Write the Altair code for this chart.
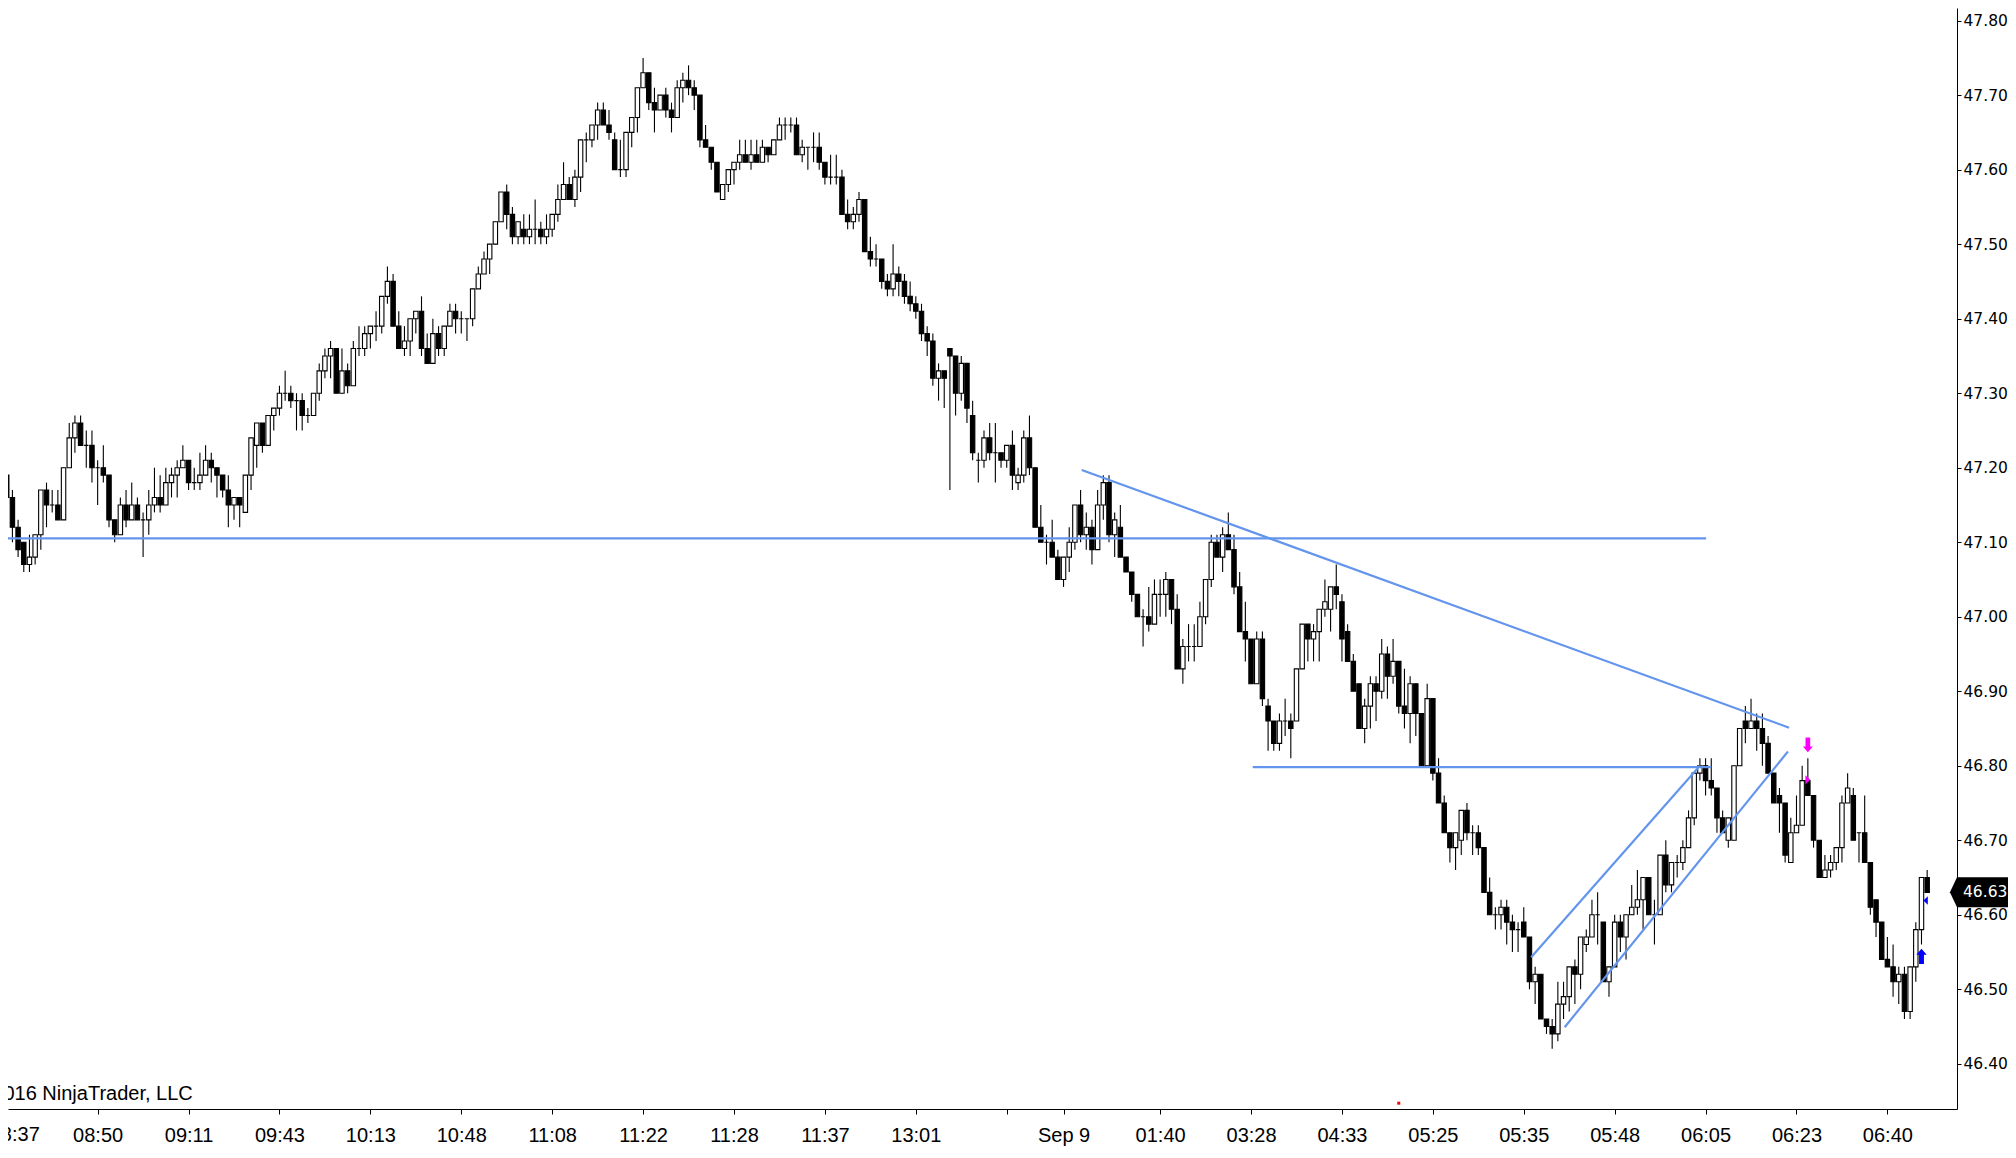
import altair as alt
import pandas as pd

# ---------------- data ----------------
opens = [
47.19,47.16,47.12,47.10,47.07,47.08,47.11,47.17,47.15,47.15,
47.13,47.20,47.24,47.26,47.23,47.23,47.20,47.20,47.19,47.13,
47.11,47.15,47.13,47.15,47.13,47.13,47.15,47.16,47.15,47.18,
47.19,47.20,47.21,47.18,47.18,47.19,47.21,47.20,47.19,47.17,
47.15,47.16,47.14,47.19,47.23,47.26,47.23,47.27,47.28,47.30,
47.30,47.29,47.29,47.27,47.27,47.30,47.33,47.35,47.36,47.30,
47.33,47.31,47.36,47.36,47.38,47.39,47.39,47.43,47.45,47.39,
47.36,47.37,47.40,47.41,47.36,47.34,47.38,47.36,47.39,47.41,
47.40,47.40,47.40,47.44,47.46,47.48,47.50,47.53,47.57,47.54,
47.51,47.52,47.51,47.52,47.52,47.51,47.52,47.54,47.56,47.58,
47.56,47.59,47.64,47.64,47.66,47.68,47.66,47.64,47.60,47.60,
47.65,47.67,47.71,47.73,47.69,47.68,47.70,47.68,47.67,47.71,
47.72,47.71,47.70,47.64,47.63,47.61,47.56,47.58,47.60,47.61,
47.62,47.61,47.62,47.61,47.63,47.62,47.64,47.66,47.66,47.66,
47.62,47.63,47.63,47.63,47.61,47.59,47.59,47.59,47.54,47.53,
47.54,47.56,47.49,47.48,47.48,47.45,47.44,47.46,47.45,47.43,
47.42,47.41,47.38,47.37,47.32,47.33,47.36,47.35,47.30,47.34,
47.27,47.21,47.21,47.24,47.22,47.22,47.21,47.23,47.18,47.19,
47.24,47.20,47.12,47.10,47.10,47.08,47.05,47.08,47.10,47.15,
47.11,47.12,47.09,47.15,47.18,47.11,47.12,47.08,47.06,47.03,
47.00,47.00,46.99,47.03,47.03,47.05,47.01,46.93,46.96,46.96,
46.96,47.00,47.05,47.10,47.08,47.11,47.09,47.04,46.98,46.97,
46.91,46.97,46.88,46.86,46.83,46.86,46.86,46.86,46.93,46.99,
46.97,46.98,47.01,47.01,47.04,47.02,46.98,46.94,46.91,46.85,
46.88,46.91,46.90,46.95,46.92,46.94,46.88,46.87,46.91,46.87,
46.80,46.89,46.79,46.75,46.71,46.69,46.70,46.74,46.71,46.71,
46.69,46.63,46.60,46.60,46.61,46.59,46.58,46.59,46.57,46.51,
46.52,46.46,46.45,46.44,46.48,46.49,46.53,46.52,46.56,46.57,
46.60,46.59,46.51,46.53,46.59,46.57,46.60,46.61,46.62,46.65,
46.60,46.60,46.68,46.64,46.67,46.67,46.69,46.73,46.79,46.80,
46.78,46.77,46.73,46.70,46.70,46.80,46.86,46.85,46.86,46.85,
46.83,46.79,46.76,46.75,46.67,46.71,46.72,46.78,46.76,46.70,
46.65,46.66,46.67,46.69,46.75,46.76,46.71,46.71,46.67,46.62,
46.59,46.54,46.53,46.51,46.52,46.47,46.53,46.58,46.65]

highs = [
47.20,47.17,47.13,47.10,47.11,47.11,47.17,47.18,47.17,47.17,
47.20,47.26,47.27,47.27,47.25,47.25,47.21,47.23,47.19,47.13,
47.16,47.17,47.18,47.16,47.14,47.17,47.20,47.19,47.20,47.20,
47.21,47.23,47.21,47.20,47.22,47.23,47.22,47.20,47.19,47.19,
47.16,47.16,47.19,47.24,47.26,47.26,47.27,47.28,47.31,47.33,
47.31,47.30,47.30,47.28,47.30,47.34,47.36,47.37,47.36,47.36,
47.34,47.37,47.39,47.39,47.39,47.41,47.43,47.47,47.46,47.41,
47.39,47.40,47.41,47.43,47.38,47.40,47.39,47.39,47.42,47.42,
47.41,47.40,47.44,47.47,47.49,47.50,47.53,47.57,47.58,47.55,
47.53,47.54,47.54,47.56,47.53,47.54,47.54,47.58,47.61,47.59,
47.60,47.64,47.65,47.66,47.69,47.69,47.68,47.65,47.64,47.65,
47.67,47.71,47.75,47.73,47.71,47.70,47.71,47.69,47.72,47.73,
47.74,47.72,47.70,47.66,47.63,47.61,47.58,47.60,47.61,47.64,
47.64,47.64,47.64,47.64,47.63,47.64,47.67,47.67,47.67,47.67,
47.64,47.63,47.65,47.65,47.61,47.62,47.62,47.60,47.56,47.55,
47.57,47.56,47.51,47.50,47.48,47.46,47.50,47.47,47.46,47.45,
47.43,47.42,47.39,47.38,47.34,47.33,47.36,47.35,47.35,47.34,
47.29,47.22,47.25,47.26,47.26,47.22,47.23,47.25,47.20,47.25,
47.27,47.20,47.15,47.11,47.13,47.09,47.08,47.12,47.15,47.17,
47.14,47.13,47.17,47.19,47.19,47.14,47.15,47.08,47.06,47.03,
47.01,47.04,47.05,47.05,47.06,47.05,47.03,46.97,46.99,46.99,
47.02,47.05,47.11,47.11,47.12,47.14,47.11,47.06,47.02,46.97,
46.98,46.98,46.89,46.86,46.87,46.89,46.87,46.93,46.99,46.99,
46.99,47.01,47.05,47.04,47.07,47.03,46.99,46.95,46.91,46.89,
46.92,46.92,46.97,46.96,46.97,46.94,46.93,46.92,46.91,46.87,
46.91,46.89,46.81,46.76,46.71,46.71,46.74,46.75,46.72,46.72,
46.69,46.65,46.61,46.62,46.62,46.60,46.59,46.61,46.57,46.53,
46.52,46.46,46.46,46.51,46.51,46.53,46.54,46.57,46.58,46.62,
46.63,46.59,46.53,46.60,46.60,46.60,46.64,46.66,46.65,46.65,
46.62,46.68,46.70,46.67,46.68,46.70,46.74,46.79,46.81,46.81,
46.81,46.77,46.74,46.73,46.80,46.85,46.88,46.89,46.87,46.87,
46.84,46.79,46.77,46.75,46.73,46.76,46.80,46.81,46.76,46.70,
46.68,46.68,46.69,46.76,46.79,46.77,46.71,46.76,46.67,46.62,
46.59,46.57,46.56,46.53,46.53,46.53,46.59,46.65,46.66]

lows = [
47.16,47.10,47.08,47.06,47.06,47.07,47.09,47.12,47.14,47.13,
47.13,47.20,47.22,47.23,47.20,47.18,47.15,47.18,47.12,47.10,
47.11,47.12,47.13,47.13,47.08,47.11,47.14,47.14,47.15,47.16,
47.16,47.20,47.17,47.17,47.17,47.19,47.18,47.16,47.16,47.12,
47.13,47.12,47.14,47.17,47.20,47.22,47.23,47.25,47.27,47.29,
47.28,47.25,47.25,47.26,47.27,47.29,47.32,47.32,47.30,47.30,
47.30,47.31,47.35,47.35,47.36,47.37,47.38,47.42,47.39,47.36,
47.35,47.35,47.38,47.35,47.34,47.34,47.35,47.35,47.39,47.38,
47.38,47.37,47.39,47.44,47.46,47.46,47.50,47.53,47.52,47.50,
47.50,47.50,47.50,47.50,47.50,47.50,47.51,47.53,47.56,47.56,
47.55,47.57,47.61,47.63,47.64,47.66,47.64,47.60,47.59,47.59,
47.63,47.65,47.71,47.68,47.65,47.68,47.67,47.65,47.67,47.69,
47.70,47.68,47.63,47.63,47.60,47.57,47.56,47.57,47.58,47.60,
47.61,47.60,47.61,47.61,47.61,47.62,47.64,47.64,47.65,47.62,
47.61,47.60,47.61,47.60,47.58,47.58,47.58,47.54,47.52,47.52,
47.53,47.49,47.47,47.47,47.44,47.43,47.43,47.43,47.42,47.41,
47.40,47.37,47.35,47.31,47.29,47.28,47.17,47.27,47.29,47.26,
47.21,47.18,47.20,47.21,47.18,47.20,47.20,47.17,47.17,47.18,
47.19,47.12,47.10,47.07,47.08,47.05,47.04,47.06,47.09,47.10,
47.09,47.07,47.09,47.13,47.10,47.08,47.08,47.06,47.02,47.00,
46.96,46.98,46.99,47.00,47.00,46.99,46.93,46.91,46.94,46.94,
46.96,46.99,47.04,47.08,47.06,47.09,47.03,46.98,46.94,46.91,
46.91,46.88,46.82,46.82,46.82,46.84,46.81,46.86,46.93,46.94,
46.94,46.94,47.00,46.98,47.01,46.94,46.94,46.90,46.85,46.83,
46.85,46.86,46.89,46.89,46.91,46.87,46.85,46.83,46.84,46.80,
46.80,46.78,46.75,46.71,46.67,46.66,46.68,46.70,46.68,46.68,
46.63,46.60,46.58,46.58,46.56,46.55,46.55,46.57,46.50,46.48,
46.46,46.44,46.42,46.43,46.46,46.47,46.48,46.50,46.55,46.57,
46.56,46.51,46.49,46.53,46.55,46.54,46.60,46.60,46.58,46.60,
46.56,46.60,46.63,46.63,46.65,46.66,46.69,46.72,46.78,46.76,
46.76,46.71,46.71,46.69,46.70,46.80,46.83,46.85,46.82,46.80,
46.79,46.75,46.71,46.67,46.67,46.71,46.72,46.76,46.69,46.65,
46.65,46.65,46.66,46.67,46.75,46.70,46.67,46.67,46.60,46.57,
46.54,46.53,46.49,46.48,46.46,46.46,46.51,46.56,46.63]

closes = [
47.16,47.12,47.09,47.07,47.08,47.11,47.17,47.15,47.15,47.13,
47.20,47.24,47.26,47.23,47.23,47.20,47.20,47.19,47.13,47.11,
47.15,47.13,47.15,47.13,47.13,47.15,47.16,47.15,47.18,47.19,
47.20,47.21,47.18,47.18,47.19,47.21,47.20,47.19,47.17,47.15,
47.16,47.15,47.19,47.24,47.26,47.23,47.27,47.28,47.30,47.30,
47.29,47.29,47.27,47.27,47.30,47.33,47.35,47.36,47.30,47.33,
47.31,47.36,47.36,47.38,47.39,47.39,47.43,47.45,47.39,47.36,
47.37,47.40,47.41,47.36,47.34,47.38,47.36,47.39,47.41,47.40,
47.40,47.40,47.44,47.46,47.48,47.50,47.53,47.57,47.54,47.51,
47.53,47.51,47.52,47.52,47.51,47.52,47.54,47.56,47.58,47.56,
47.59,47.64,47.64,47.66,47.68,47.66,47.65,47.60,47.60,47.65,
47.67,47.71,47.73,47.69,47.68,47.70,47.68,47.67,47.71,47.72,
47.71,47.70,47.64,47.63,47.61,47.57,47.58,47.60,47.61,47.62,
47.61,47.62,47.61,47.63,47.62,47.64,47.66,47.66,47.66,47.62,
47.63,47.63,47.63,47.61,47.59,47.59,47.59,47.54,47.53,47.54,
47.56,47.49,47.48,47.48,47.45,47.44,47.46,47.45,47.43,47.42,
47.41,47.38,47.37,47.32,47.33,47.32,47.35,47.30,47.34,47.28,
47.22,47.21,47.24,47.22,47.22,47.21,47.23,47.19,47.19,47.24,
47.20,47.12,47.10,47.10,47.08,47.05,47.08,47.10,47.15,47.11,
47.12,47.09,47.15,47.18,47.11,47.13,47.08,47.06,47.03,47.00,
47.00,46.99,47.03,47.03,47.05,47.01,46.93,46.96,46.96,46.96,
47.00,47.05,47.10,47.08,47.11,47.09,47.04,46.98,46.97,46.91,
46.97,46.89,46.86,46.83,46.86,46.86,46.85,46.93,46.99,46.97,
46.98,47.01,47.02,47.04,47.03,46.97,46.94,46.90,46.85,46.88,
46.91,46.90,46.95,46.92,46.94,46.88,46.87,46.91,46.87,46.80,
46.89,46.79,46.75,46.71,46.69,46.71,46.74,46.71,46.71,46.69,
46.63,46.60,46.60,46.61,46.59,46.58,46.58,46.57,46.51,46.52,
46.46,46.45,46.44,46.48,46.49,46.53,46.52,46.57,46.57,46.60,
46.60,46.51,46.53,46.59,46.57,46.60,46.61,46.62,46.65,46.60,
46.60,46.68,46.64,46.67,46.67,46.69,46.73,46.79,46.80,46.78,
46.77,46.73,46.71,46.73,46.80,46.85,46.85,46.86,46.85,46.83,
46.79,46.75,46.75,46.68,46.71,46.72,46.78,46.76,46.70,46.65,
46.66,46.67,46.69,46.75,46.77,46.70,46.71,46.67,46.61,46.59,
46.54,46.53,46.51,46.52,46.47,46.53,46.58,46.65,46.63]

# x-axis (bar index -> time label)
tick_bars = [16, 32, 48, 64, 80, 96, 112, 128, 144, 160, 176, 186,
             203, 219, 235, 251, 267, 283, 299, 315, 331]
tick_labels = ["08:50", "09:11", "09:43", "10:13", "10:48", "11:08", "11:22",
               "11:28", "11:37", "13:01", "", "Sep 9", "01:40", "03:28",
               "04:33", "05:25", "05:35", "05:48", "06:05", "06:23", "06:40"]
first_bar_label = ["08:37"]
first_bar = [0]

price_ticks = [46.40, 46.50, 46.60, 46.70, 46.80, 46.90, 47.00, 47.10,
               47.20, 47.30, 47.40, 47.50, 47.60, 47.70, 47.80]

# drawn trend lines (bar index, price)
line_x1 = [-0.3, 219.3, 189.2, 268.3, 274.2]
line_y1 = [47.105, 46.798, 47.197, 46.543, 46.449]
line_x2 = [299.1, 300.0, 313.7, 298.0, 313.5]
line_y2 = [47.105, 46.798, 46.851, 46.800, 46.819]

# signal markers
sig_bar = [317, 317, 337, 337]
sig_price = [46.828, 46.781, 46.544, 46.619]
sig_kind = ["arrow_down", "entry_short", "arrow_up", "entry_long"]

dot_bar = [245]
dot_price = [46.347]

copyright_text = ["\u00a9 2016 NinjaTrader, LLC"]

# ---------------- chart ----------------
W, H = 1949, 1101
xs = alt.Scale(domain=[1.103, 342.37], nice=False, zero=False)
ys = alt.Scale(domain=[46.3392, 47.8170], nice=False, zero=False)

df = pd.DataFrame({"bar": list(range(len(opens))), "open": opens,
                   "high": highs, "low": lows, "close": closes})

label_expr = ("[" + ",".join("'%s'" % s for s in tick_labels) + "][indexof(["
              + ",".join(str(b) for b in tick_bars) + "], datum.value)]")

x_axis = alt.Axis(values=tick_bars, labelExpr=label_expr, grid=False,
                  domainColor="black", domainWidth=1, tickColor="black",
                  tickSize=5, tickWidth=1, labelFont="Liberation Sans",
                  labelFontSize=20, labelColor="black", labelPadding=11,
                  labelOverlap=False, labelFlush=False, labelAngle=0,
                  title=None)
y_axis = alt.Axis(orient="right", values=price_ticks, format=".2f",
                  grid=False, domainColor="black", domainWidth=1,
                  tickColor="black", tickSize=4, tickWidth=1,
                  labelFont="DejaVu Sans", labelFontSize=15.5,
                  labelColor="black", labelPadding=2, labelOverlap=False,
                  labelFlush=False, title=None)

base = alt.Chart(df)

wicks = base.mark_rule(color="black", strokeWidth=1.1).encode(
    x=alt.X("bar:Q", scale=xs, axis=x_axis),
    y=alt.Y("low:Q", scale=ys, axis=y_axis),
    y2="high:Q",
)

bodies = base.mark_bar(width=4.4, stroke="black", strokeWidth=1.1).encode(
    x=alt.X("bar:Q", scale=xs, title=None),
    y=alt.Y("open:Q", scale=ys, title=None),
    y2="close:Q",
    fill=alt.condition("datum.close >= datum.open",
                       alt.value("white"), alt.value("black")),
)

lines_df = pd.DataFrame({"x1": line_x1, "y1": line_y1,
                         "x2": line_x2, "y2": line_y2})
lines = alt.Chart(lines_df).mark_rule(color="#6495ED", strokeWidth=2.2).encode(
    x=alt.X("x1:Q", scale=xs, title=None),
    x2="x2:Q",
    y=alt.Y("y1:Q", scale=ys, title=None),
    y2="y2:Q",
)

sig_df = pd.DataFrame({"bar": sig_bar, "price": sig_price, "kind": sig_kind})
shapes = {
    "arrow_down": ("M-0.32,-1L0.32,-1L0.32,0.23L0.68,0.23L0,1L-0.68,0.23L-0.32,0.23Z", 215, "#ff00ff"),
    "entry_short": ("M-0.55,-1L0.55,0L-0.55,1Z", 81, "#ff00ff"),
    "arrow_up": ("M-0.32,1L0.32,1L0.32,-0.23L0.68,-0.23L0,-1L-0.68,-0.23L-0.32,-0.23Z", 235, "#0000ff"),
    "entry_long": ("M1.5,-1L0.45,0L1.5,1Z", 71, "#0000ff"),
}
sig_layers = []
for kind, (path, size, color) in shapes.items():
    sig_layers.append(
        alt.Chart(sig_df).transform_filter(alt.datum.kind == kind)
        .mark_point(shape=path, size=size, filled=True, color=color,
                    opacity=1, strokeWidth=0)
        .encode(x=alt.X("bar:Q", scale=xs, title=None),
                y=alt.Y("price:Q", scale=ys, title=None))
    )

dot = alt.Chart(pd.DataFrame({"bar": dot_bar, "price": dot_price})).mark_square(
    size=9, color="#ff0000", opacity=1).encode(
    x=alt.X("bar:Q", scale=xs, title=None),
    y=alt.Y("price:Q", scale=ys, title=None))

last_df = pd.DataFrame({"price": [closes[-1]],
                        "label": ["%.2f" % closes[-1]]})
price_tag = alt.Chart(last_df).mark_point(
    shape="M-0.47,0L0,-1L5,-1L5,1L0,1Z", size=900, filled=True,
    color="black", opacity=1, strokeWidth=0).encode(
    x=alt.value(W), y=alt.Y("price:Q", scale=ys, title=None))
price_txt = alt.Chart(last_df).mark_text(
    align="left", baseline="middle", dx=6, font="DejaVu Sans",
    fontSize=15.5, color="white").encode(
    x=alt.value(W), y=alt.Y("price:Q", scale=ys, title=None),
    text="label:N")

first_lbl = alt.Chart(pd.DataFrame({"bar": first_bar,
                                    "label": first_bar_label})).mark_text(
    align="center", baseline="top", font="Liberation Sans", fontSize=20,
    color="black", dx=8).encode(
    x=alt.X("bar:Q", scale=xs, title=None), y=alt.value(H + 16),
    text="label:N")

copyright = alt.Chart(pd.DataFrame({"t": copyright_text})).mark_text(
    align="left", baseline="alphabetic", font="Liberation Sans",
    fontSize=20, color="black").encode(
    x=alt.value(-36), y=alt.value(H - 9), text="t:N")

chart = alt.layer(
    wicks, bodies, lines, *sig_layers, dot, price_tag, price_txt,
    first_lbl, copyright,
).properties(
    width=W, height=H,
    autosize=alt.AutoSizeParams(type="none"),
    padding={"left": 0, "top": 0, "right": 51, "bottom": 39},
    background="white",
).configure_view(stroke=None)

chart.save("out.html", embed_options={"renderer": "svg", "actions": False})
